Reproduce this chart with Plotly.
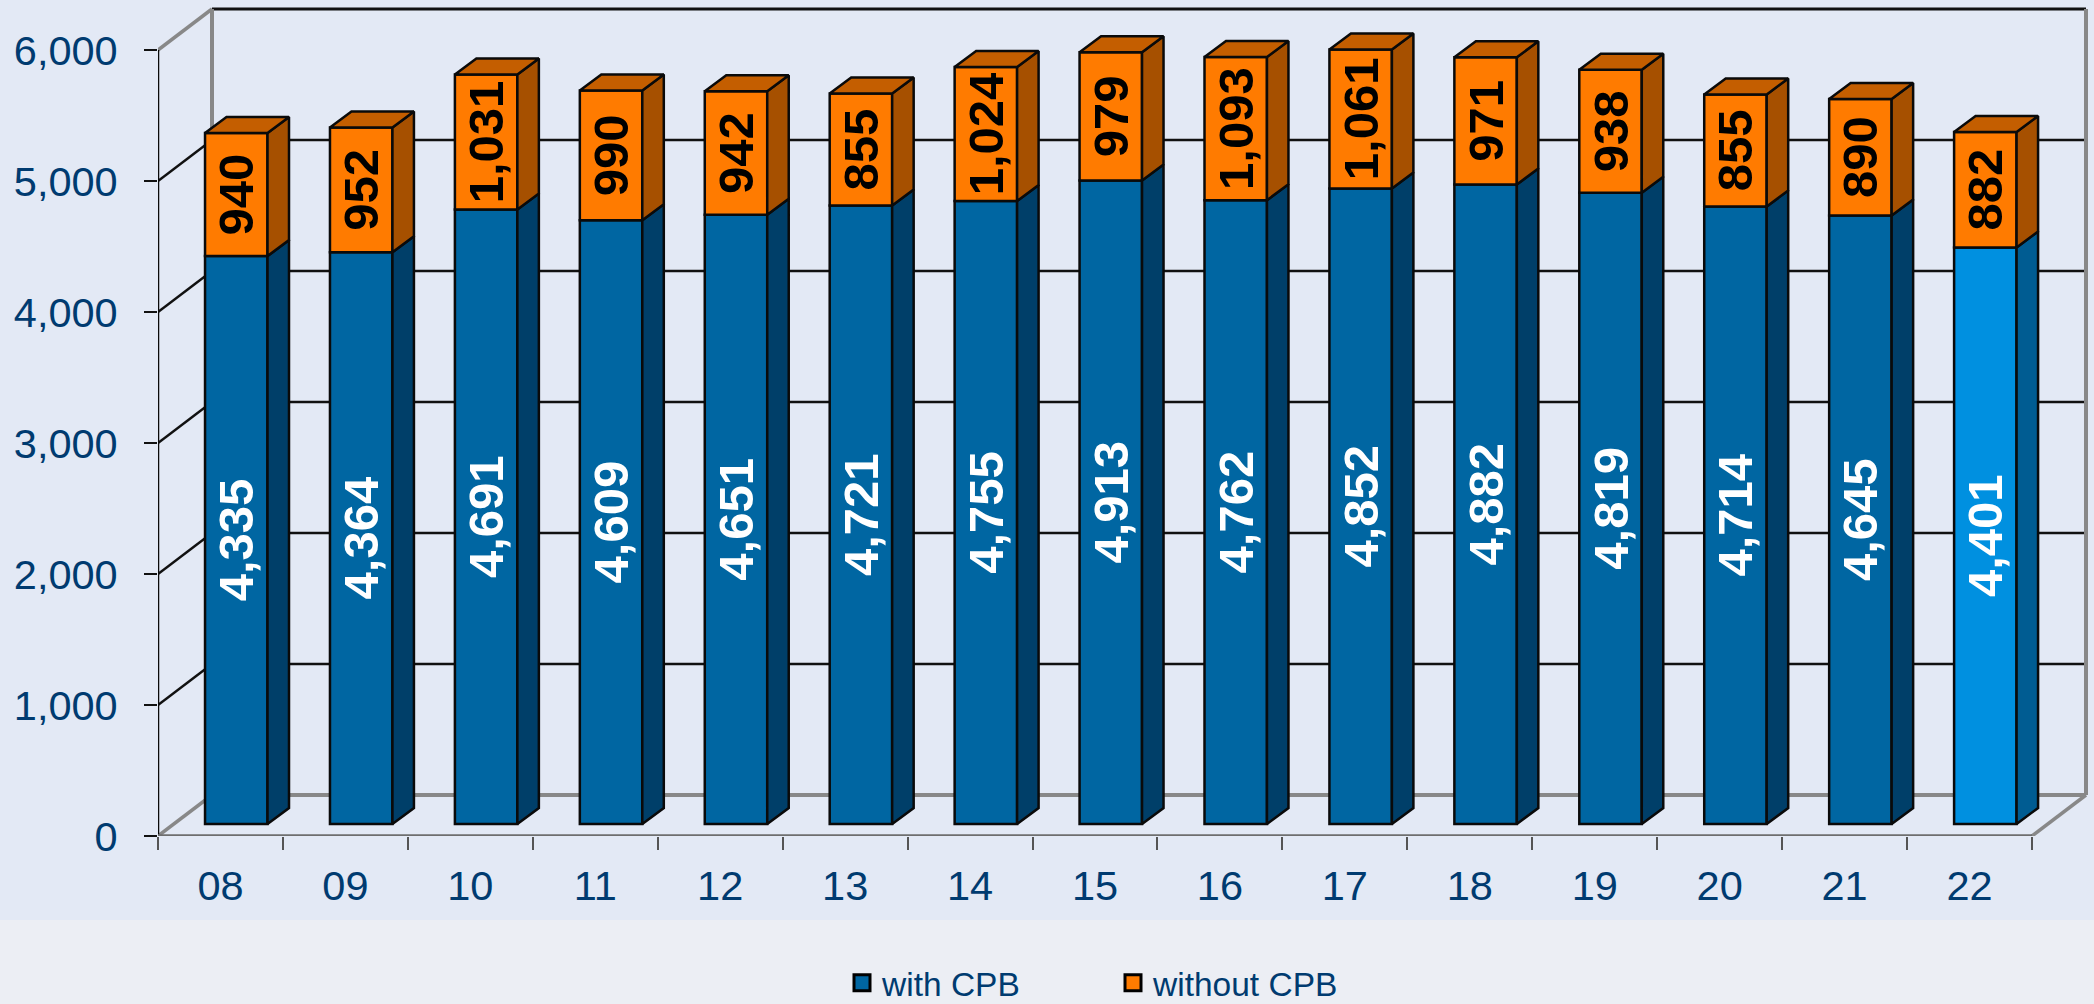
import plotly.graph_objects as go

years = ["08","09","10","11","12","13","14","15","16","17","18","19","20","21","22"]
with_cpb = [4335,4364,4691,4609,4651,4721,4755,4913,4762,4852,4882,4819,4714,4645,4401]
without_cpb = [940,952,1031,990,942,855,1024,979,1093,1061,971,938,855,890,882]
y_ticks = [0,1000,2000,3000,4000,5000,6000]
names = ["with CPB", "without CPB"]

W, H = 2094, 1004
L, R_PX, T, B_PX = 158, 2092, 4, 836
PX_X = (2032 - 158) / 15      # pixels per category
PX_Y = 786 / 6000             # pixels per unit
WALL_X, WALL_Y = 54 / PX_X, 41 / PX_Y      # floor depth
SHIFT_X, LIFT = 15.8 / PX_X, 12 / PX_Y     # bars stand inside the floor
BAR_HALF = 0.25
DEPTH_X, DEPTH_Y = 21.5 / PX_X, 16 / PX_Y  # bar depth

C_TEXT = "#003B70"
C_PANEL, C_BAND = "#E3E9F5", "#ECEEF4"
C_BLUE, C_BLUE_SIDE = "#0066A2", "#003F69"
C_HI, C_HI_SIDE = "#0090E0", "#005C92"
C_OR, C_OR_TOP, C_OR_SIDE = "#FF7B00", "#C45E00", "#A65000"
C_EDGE = "#0A0A0A"
C_WALL = "#888888"
FONT = "Liberation Sans, Arial, sans-serif"

n = len(years)
xc = [i + 0.5 + SHIFT_X for i in range(n)]
tops1 = [LIFT + v for v in with_cpb]
tops2 = [LIFT + a + b for a, b in zip(with_cpb, without_cpb)]

def side_poly(idx, lows, highs):
    xs, ys = [], []
    for i in idx:
        x = xc[i] + BAR_HALF
        xs += [x, x + DEPTH_X, x + DEPTH_X, x, x, None]
        ys += [lows[i], lows[i] + DEPTH_Y, highs[i] + DEPTH_Y, highs[i], lows[i], None]
    return xs, ys

def top_poly(idx, highs):
    xs, ys = [], []
    for i in idx:
        a, b = xc[i] - BAR_HALF, xc[i] + BAR_HALF
        xs += [a, b, b + DEPTH_X, a + DEPTH_X, a, None]
        ys += [highs[i], highs[i], highs[i] + DEPTH_Y, highs[i] + DEPTH_Y, highs[i], None]
    return xs, ys

def poly(xs, ys, color):
    return go.Scatter(x=xs, y=ys, mode="lines", fill="toself", fillcolor=color,
                      line=dict(color=C_EDGE, width=2.5), hoverinfo="skip", showlegend=False)

fig = go.Figure()

blue_cols = [C_BLUE] * (n - 1) + [C_HI]
fig.add_trace(go.Bar(x=xc, y=with_cpb, base=[LIFT] * n, width=2 * BAR_HALF, name=names[0],
                     marker=dict(color=blue_cols, line=dict(color=C_EDGE, width=2.5)),
                     text=[f"{v:,}" for v in with_cpb], textposition="inside", textangle=-90,
                     insidetextanchor="middle", constraintext="none",
                     textfont=dict(family=FONT, size=49, color="white", weight="bold"),
                     showlegend=False))
fig.add_trace(go.Bar(x=xc, y=without_cpb, base=tops1, width=2 * BAR_HALF, name=names[1],
                     marker=dict(color=C_OR, line=dict(color=C_EDGE, width=2.5)),
                     text=[f"{v:,}" for v in without_cpb], textposition="inside", textangle=-90,
                     insidetextanchor="middle", constraintext="none",
                     textfont=dict(family=FONT, size=49, color="black", weight="bold"),
                     showlegend=False))

idx_main, idx_hi = list(range(n - 1)), [n - 1]
base = [LIFT] * n
fig.add_trace(poly(*side_poly(idx_main, base, tops1), C_BLUE_SIDE))
fig.add_trace(poly(*side_poly(idx_hi, base, tops1), C_HI_SIDE))
fig.add_trace(poly(*side_poly(range(n), tops1, tops2), C_OR_SIDE))
fig.add_trace(poly(*top_poly(range(n), tops2), C_OR_TOP))

# front axis lines (drawn unclipped)
fig.add_trace(go.Scatter(x=[0, 0], y=[0, y_ticks[-1]], mode="lines", line=dict(color="#0A0A0A", width=2.5),
                         hoverinfo="skip", showlegend=False, cliponaxis=False))
fig.add_trace(go.Scatter(x=[0, n], y=[0, 0], mode="lines", line=dict(color="#6E6E6E", width=3.5),
                         hoverinfo="skip", showlegend=False, cliponaxis=False))

# legend entries
for nm, col in zip(names, [C_BLUE, C_OR]):
    fig.add_trace(go.Scatter(x=[None], y=[None], mode="markers", name=nm,
                             marker=dict(symbol="square", size=18, color=col,
                                         line=dict(color="black", width=3))))

shapes = [dict(type="rect", xref="paper", yref="paper", x0=-1, x1=2,
               y0=(B_PX - 920) / (B_PX - T), y1=2, fillcolor=C_PANEL, line_width=0, layer="below")]
def seg(x0, y0, x1, y1, color, width):
    shapes.append(dict(type="line", xref="x", yref="y", x0=x0, y0=y0, x1=x1, y1=y1,
                       line=dict(color=color, width=width), layer="below"))

top = y_ticks[-1]
for v in y_ticks[1:-1]:
    seg(WALL_X, v + WALL_Y, n + WALL_X, v + WALL_Y, "#111111", 2.5)
    seg(0, v, WALL_X, v + WALL_Y, "#111111", 2.5)
seg(WALL_X, top + WALL_Y, n + WALL_X, top + WALL_Y, "#111111", 3)
seg(0, top, WALL_X, top + WALL_Y, C_WALL, 3.5)
seg(WALL_X, WALL_Y, WALL_X, top + WALL_Y, C_WALL, 4)
seg(n + WALL_X, WALL_Y, n + WALL_X, top + WALL_Y, C_WALL, 4)
seg(WALL_X, WALL_Y, n + WALL_X, WALL_Y, C_WALL, 4)
seg(0, 0, WALL_X, WALL_Y, C_WALL, 3.5)
seg(n, 0, n + WALL_X, WALL_Y, C_WALL, 3.5)

fig.update_layout(
    width=W, height=H,
    margin=dict(l=L, r=W - R_PX, t=T, b=H - B_PX, pad=0, autoexpand=False),
    paper_bgcolor=C_BAND, plot_bgcolor="rgba(0,0,0,0)",
    barmode="overlay", shapes=shapes,
    font=dict(family=FONT, color=C_TEXT),
    xaxis=dict(range=[0, (R_PX - L) / PX_X], showgrid=False, zeroline=False, showline=False,
               tickmode="array", tickvals=[i + 0.5 for i in range(n)], ticktext=years,
               ticks="outside", ticklen=13, tickcolor="rgba(0,0,0,0)",
               tickfont=dict(size=41.5, color=C_TEXT, family=FONT),
               minor=dict(tickmode="array", tickvals=list(range(n + 1)), ticks="outside",
                          ticklen=13, tickwidth=1.5, tickcolor="#555555")),
    yaxis=dict(range=[0, (B_PX - T) / PX_Y], showgrid=False, zeroline=False, showline=False,
               tickmode="array", tickvals=y_ticks, tickformat=",",
               ticks="outside", ticklen=13, tickwidth=1.5, tickcolor="#111111",
               ticklabelstandoff=18,
               tickfont=dict(size=41.5, color=C_TEXT, family=FONT)),
    legend=dict(orientation="h", x=(842 - L) / (R_PX - L), xanchor="left",
                y=(B_PX - 983) / (B_PX - T), yanchor="middle",
                entrywidth=226, entrywidthmode="pixels",
                font=dict(size=33.5, color=C_TEXT, family=FONT), bgcolor="rgba(0,0,0,0)",
                itemwidth=30, itemclick=False, itemdoubleclick=False),
)

fig.write_html("out.html", config=dict(displayModeBar=False),
               post_script="document.body.style.margin='0';document.documentElement.style.overflow='hidden';")
